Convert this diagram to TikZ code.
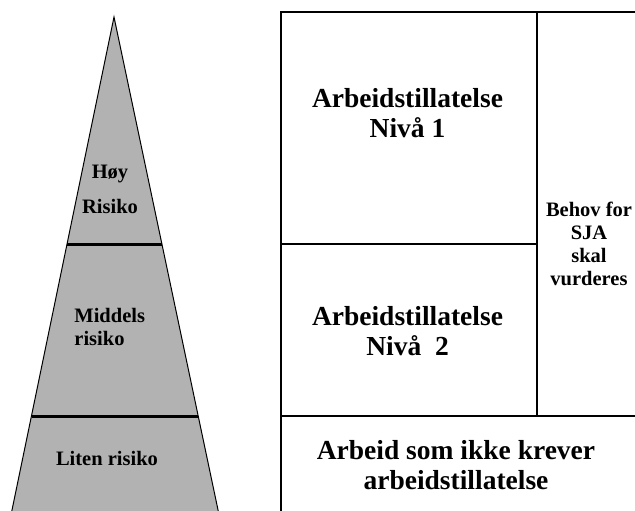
\documentclass[tikz,border=0pt]{standalone}
\usepackage{fontspec}
\setmainfont{Liberation Serif}
\begin{document}
\begin{tikzpicture}[x=0.5pt, y=-0.5pt,
  big/.style={font=\fontsize{13.75}{15}\selectfont\bfseries, align=center, anchor=base, inner sep=0pt},
  small/.style={font=\fontsize{10.25}{11.5}\selectfont\bfseries, anchor=base, inner sep=0pt}]
\useasboundingbox (0,0) rectangle (635,510);
\clip (0,0) rectangle (635,510);
% risk pyramid
\filldraw[fill=black!30, line width=0.5pt] (114,17) -- (8.9,525) -- (221.2,525) -- cycle;
\draw[line width=1.5pt] (67,244) -- (162,244);
\draw[line width=1.5pt] (31.5,416) -- (198,416);
\node[small] (H_0) at (110,178) {Høy};
\node[small] (H_1) at (110,213) {Risiko};
\node[small, align=left, anchor=base west] (M_0) at (74,345) {Middels\\risiko};
\node[small] (L_0) at (107,465) {Liten risiko};
% permit boxes
\draw[line width=1.1pt] (281,520) -- (281,12) -- (645,12);
\draw[line width=1.1pt] (537,12) -- (537,416);
\draw[line width=1.1pt] (281,244) -- (537,244);
\draw[line width=1.1pt] (281,416) -- (645,416);
\node[big] (A_1) at (407.5,137) {Arbeidstillatelse\\Nivå 1};
\node[big] (A_2) at (407.5,355) {Arbeidstillatelse\\Nivå\ \ 2};
\node[big] (A_0) at (456,489) {Arbeid som ikke krever\\arbeidstillatelse};
\node[small, align=center] (S_0) at (589,285) {Behov for\\SJA\\skal\\vurderes};
\end{tikzpicture}
\end{document}
